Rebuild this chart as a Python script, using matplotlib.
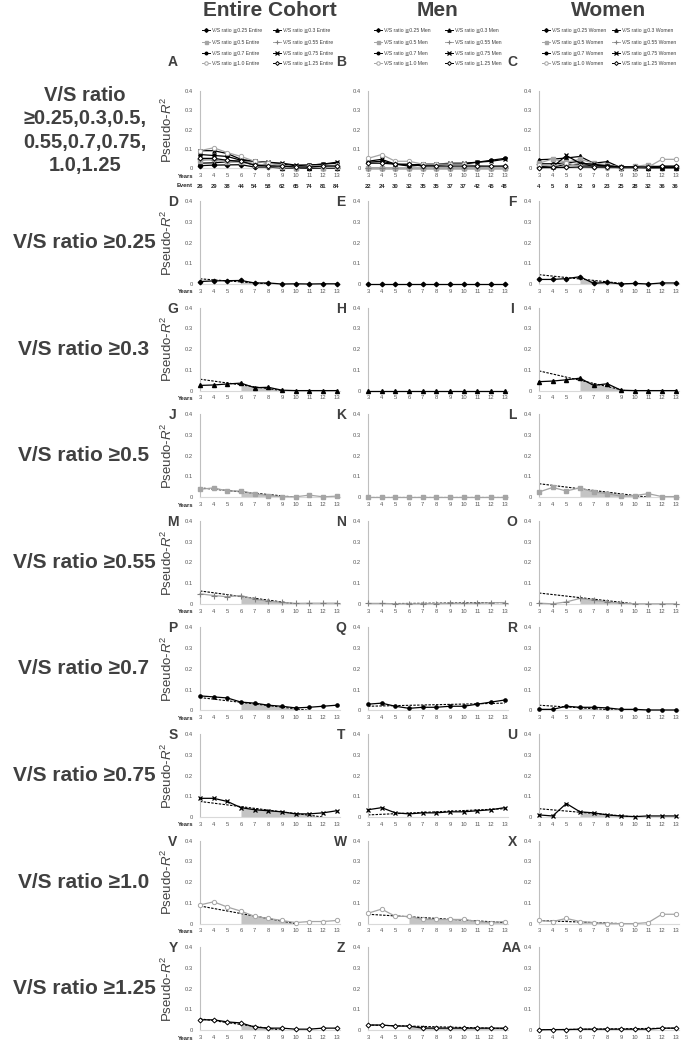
import matplotlib
matplotlib.use('Agg')
import matplotlib.pyplot as plt
from matplotlib.lines import Line2D
import numpy as np

plt.rcParams['font.family'] = ['Liberation Sans', 'DejaVu Sans']
plt.rcParams['mathtext.fontset'] = 'custom'
plt.rcParams['mathtext.rm'] = 'Liberation Sans'
plt.rcParams['mathtext.it'] = 'Liberation Sans:italic'

# ---------------- data ----------------
years = [3, 4, 5, 6, 7, 8, 9, 10, 11, 12, 13]
events_entire = [26, 29, 38, 44, 54, 58, 62, 65, 74, 81, 84]
events_men = [22, 24, 30, 32, 35, 35, 37, 37, 42, 45, 48]
events_women = [4, 5, 8, 12, 9, 23, 25, 28, 32, 36, 36]

thresholds = ['0.25', '0.3', '0.5', '0.55', '0.7', '0.75', '1.0', '1.25']
groups = ['Entire', 'Men', 'Women']
group_titles = ['Entire Cohort', 'Men', 'Women']

entire_025 = [0.012, 0.015, 0.016, 0.017, 0.005, 0.005, 0.0, 0.001, 0.0, 0.001, 0.001]
entire_03 = [0.025, 0.027, 0.032, 0.036, 0.014, 0.016, 0.002, 0.0, 0.0, 0.0, 0.0]
entire_05 = [0.038, 0.045, 0.030, 0.030, 0.017, 0.008, 0.003, 0.002, 0.010, 0.002, 0.005]
entire_055 = [0.048, 0.040, 0.034, 0.040, 0.022, 0.012, 0.007, 0.002, 0.003, 0.003, 0.003]
entire_07 = [0.070, 0.065, 0.060, 0.040, 0.035, 0.025, 0.020, 0.012, 0.015, 0.020, 0.025]
entire_075 = [0.090, 0.090, 0.075, 0.045, 0.035, 0.030, 0.025, 0.015, 0.015, 0.020, 0.030]
entire_10 = [0.090, 0.105, 0.080, 0.060, 0.035, 0.025, 0.015, 0.005, 0.010, 0.010, 0.015]
entire_125 = [0.050, 0.050, 0.040, 0.035, 0.015, 0.010, 0.010, 0.005, 0.005, 0.010, 0.010]

men_025 = [0.0, 0.0, 0.0, 0.0, 0.0, 0.0, 0.0, 0.0, 0.0, 0.0, 0.0]
men_03 = [0.0, 0.0, 0.0, 0.0, 0.0, 0.0, 0.0, 0.0, 0.0, 0.0, 0.0]
men_05 = [0.002, 0.002, 0.002, 0.002, 0.002, 0.002, 0.002, 0.002, 0.002, 0.002, 0.002]
men_055 = [0.002, 0.002, 0.0, 0.0, 0.0, 0.001, 0.002, 0.002, 0.003, 0.005, 0.006]
men_07 = [0.030, 0.035, 0.020, 0.010, 0.015, 0.015, 0.020, 0.020, 0.030, 0.040, 0.050]
men_075 = [0.035, 0.045, 0.020, 0.015, 0.020, 0.020, 0.025, 0.025, 0.030, 0.035, 0.045]
men_10 = [0.050, 0.070, 0.035, 0.035, 0.020, 0.020, 0.020, 0.020, 0.010, 0.005, 0.010]
men_125 = [0.025, 0.025, 0.020, 0.020, 0.010, 0.010, 0.010, 0.010, 0.010, 0.010, 0.010]

women_025 = [0.022, 0.022, 0.026, 0.035, 0.003, 0.008, 0.0, 0.003, 0.0, 0.005, 0.005]
women_03 = [0.043, 0.046, 0.052, 0.060, 0.025, 0.033, 0.002, 0.0, 0.0, 0.0, 0.0]
women_05 = [0.025, 0.047, 0.030, 0.045, 0.025, 0.017, 0.005, 0.008, 0.017, 0.003, 0.003]
women_055 = [0.003, 0.0, 0.009, 0.026, 0.017, 0.009, 0.003, 0.0, 0.0, 0.0, 0.0]
women_07 = [0.005, 0.005, 0.020, 0.015, 0.015, 0.012, 0.005, 0.005, 0.002, 0.002, 0.002]
women_075 = [0.010, 0.005, 0.065, 0.025, 0.020, 0.010, 0.005, 0.002, 0.005, 0.005, 0.005]
women_10 = [0.015, 0.010, 0.025, 0.010, 0.005, 0.0, 0.0, 0.0, 0.005, 0.045, 0.045]
women_125 = [0.002, 0.003, 0.003, 0.005, 0.005, 0.005, 0.005, 0.005, 0.005, 0.010, 0.010]

entire = [entire_025, entire_03, entire_05, entire_055, entire_07, entire_075, entire_10, entire_125]
men = [men_025, men_03, men_05, men_055, men_07, men_075, men_10, men_125]
women = [women_025, women_03, women_05, women_055, women_07, women_075, women_10, women_125]
all_series = [entire, men, women]
all_events = [events_entire, events_men, events_women]

# dashed trend lines: (x_start, x_end, y_start, y_end); None = no trend line
trend_entire = [(3, 8, 0.025, 0.0), (3, 9, 0.055, 0.0), (3, 10, 0.045, 0.0), (3, 10, 0.062, 0.0),
                (3, 11, 0.062, 0.0), (3, 12, 0.075, 0.0), (3, 10, 0.085, 0.0), (3, 9, 0.055, 0.0)]
trend_men = [None, None, (3, 13, 0.002, 0.002), (3, 13, 0.0, 0.006),
             (3, 13, 0.020, 0.035), (3, 13, 0.010, 0.040), (3, 13, 0.045, 0.005), (3, 13, 0.025, 0.008)]
trend_women = [(3, 9.5, 0.045, 0.0), (3, 9.3, 0.095, 0.0), (3, 11, 0.065, 0.0), (3, 10, 0.052, 0.0),
               (3, 9, 0.025, 0.0), (3, 10, 0.040, 0.0), (3, 9, 0.015, 0.0), (3, 13, 0.002, 0.010)]
all_trends = [trend_entire, trend_men, trend_women]
shade_start = 6

row_labels = ['V/S ratio ≥0.25', 'V/S ratio ≥0.3', 'V/S ratio ≥0.5', 'V/S ratio ≥0.55',
              'V/S ratio ≥0.7', 'V/S ratio ≥0.75', 'V/S ratio ≥1.0', 'V/S ratio ≥1.25']
top_label = 'V/S ratio\n≥0.25,0.3,0.5,\n0.55,0.7,0.75,\n1.0,1.25'
panel_letters = [['D', 'E', 'F'], ['G', 'H', 'I'], ['J', 'K', 'L'], ['M', 'N', 'O'],
                 ['P', 'Q', 'R'], ['S', 'T', 'U'], ['V', 'W', 'X'], ['Y', 'Z', 'AA']]
top_letters = ['A', 'B', 'C']

# ---------------- style ----------------
GRAY = '#a5a5a5'
TXT = '#404040'
TICK = '#595959'
styles = [
    dict(color='black', marker='D', markersize=2.3, markerfacecolor='black', markeredgecolor='black'),
    dict(color='black', marker='^', markersize=2.9, markerfacecolor='black', markeredgecolor='black'),
    dict(color=GRAY, marker='s', markersize=2.7, markerfacecolor=GRAY, markeredgecolor=GRAY),
    dict(color=GRAY, marker='+', markersize=4, markeredgecolor='#808080', markeredgewidth=0.8),
    dict(color='black', marker='o', markersize=2.3, markerfacecolor='black', markeredgecolor='black'),
    dict(color='black', marker='x', markersize=3, markeredgecolor='black', markeredgewidth=0.9),
    dict(color=GRAY, marker='o', markersize=3.1, markerfacecolor='white', markeredgecolor=GRAY,
         markeredgewidth=0.7),
    dict(color='black', marker='D', markersize=2.5, markerfacecolor='white', markeredgecolor='black',
         markeredgewidth=0.7),
]
LW = 0.9

W, H = 682, 1044
fig = plt.figure(figsize=(W / 100, H / 100), dpi=100)


def fx(x):
    return x / W


def fy(y):
    return 1 - y / H


col_x = [200, 368, 539]
AX_W = 140
rowA_top, rowA_h = 91, 77
row_top0, row_pitch, row_h = 201, 106.6, 83


def make_ax(x, top, h):
    return fig.add_axes([fx(x), fy(top + h), fx(AX_W), h / H])


def setup(ax):
    ax.set_xlim(3, 13.25)
    ax.set_ylim(0, 0.4)
    ax.set_yticks([0, 0.1, 0.2, 0.3, 0.4])
    ax.set_yticklabels(['0', '0.1', '0.2', '0.3', '0.4'])
    ax.set_xticks(years)
    ax.set_xticklabels([str(y) for y in years])
    ax.tick_params(axis='both', length=0, labelsize=4.2, colors=TICK)
    ax.tick_params(axis='y', pad=5)
    ax.tick_params(axis='x', pad=3.5)
    for s in ['top', 'right']:
        ax.spines[s].set_visible(False)
    ax.spines['left'].set_color('#bfbfbf')
    ax.spines['left'].set_linewidth(0.8)
    ax.spines['bottom'].set_color('#d9d9d9')
    ax.spines['bottom'].set_linewidth(0.8)
    ax.set_facecolor('none')


# column titles
for c in range(3):
    fig.text(fx(col_x[c] + 70), fy(10), group_titles[c], ha='center', va='center',
             fontsize=15, fontweight='bold', color=TXT)

# manual legends
leg_x = [[202, 273], [374, 445], [542, 612]]
leg_y = [30, 41.5, 52.5, 63]
for c in range(3):
    for i, t in enumerate(thresholds):
        r, k = divmod(i, 2)
        x0 = leg_x[c][k]
        y0 = leg_y[r]
        st = dict(styles[i])
        ms = st.pop('markersize') * 0.8
        fig.add_artist(Line2D([fx(x0), fx(x0 + 8)], [fy(y0), fy(y0)], transform=fig.transFigure,
                              lw=0.7, color=st['color']))
        st2 = dict(st)
        st2.pop('color')
        fig.add_artist(Line2D([fx(x0 + 4)], [fy(y0)], transform=fig.transFigure, linestyle='none',
                              markersize=ms, **st2))
        fig.text(fx(x0 + 10), fy(y0), f'V/S ratio ≧{t} {groups[c]}', ha='left', va='center',
                 fontsize=3.7, color=TXT, family=['Liberation Sans', 'DejaVu Sans'])

# row A
fig.text(fx(85), fy(130.5), top_label, ha='center', va='center', fontsize=14.5,
         fontweight='bold', color=TXT, linespacing=1.3)
for c in range(3):
    ax = make_ax(col_x[c], rowA_top, rowA_h)
    setup(ax)
    for i in range(8):
        ax.plot(years, all_series[c][i], lw=LW, clip_on=False, zorder=3, **styles[i])
    for x, ev in zip(years, all_events[c]):
        ax.annotate(str(ev), xy=(x, 0), xycoords='data', xytext=(0, -13.5),
                    textcoords='offset points', ha='center', va='center', fontsize=4.2,
                    fontweight='bold', color='#262626')
    fig.text(fx(col_x[c] - 27), fy(62), top_letters[c], ha='center', va='center', fontsize=10,
             fontweight='bold', color=TXT)
    if c == 0:
        ax.set_ylabel('Pseudo-$\\mathit{R}^2$', fontsize=9.5, color=TXT)
        ax.yaxis.set_label_coords(-0.18, 0.5)
        fig.text(fx(193), fy(rowA_top + rowA_h + 8), 'Years', ha='right', va='center',
                 fontsize=4.2, fontweight='bold', color='#262626')
        fig.text(fx(193), fy(rowA_top + rowA_h + 17.5), 'Event', ha='right', va='center',
                 fontsize=4.2, fontweight='bold', color='#262626')

# rows D..AA
for r in range(8):
    top = row_top0 + r * row_pitch
    fig.text(fx(84), fy(top + 41.5), row_labels[r], ha='center', va='center', fontsize=15,
             fontweight='bold', color=TXT)
    for c in range(3):
        ax = make_ax(col_x[c], top, row_h)
        setup(ax)
        tr = all_trends[c][r]
        if tr is not None:
            x0, x1, y0, y1 = tr
            if y1 < y0:
                xs = np.linspace(shade_start, x1, 20)
                ys = np.interp(xs, [x0, x1], [y0, y1])
                ax.fill_between(xs, 0, ys, color='#c4c4c4', lw=0, zorder=1)
            ax.plot([x0, x1], [y0, y1], color='black', lw=0.8, dashes=(2.2, 1.2), zorder=2)
        ax.plot(years, all_series[c][r], lw=LW, clip_on=False, zorder=3, **styles[r])
        fig.text(fx(col_x[c] - 27), fy(top + 1), panel_letters[r][c], ha='center', va='center',
                 fontsize=10, fontweight='bold', color=TXT)
        if c == 0:
            ax.set_ylabel('Pseudo-$\\mathit{R}^2$', fontsize=9.5, color=TXT)
            ax.yaxis.set_label_coords(-0.18, 0.5)
            fig.text(fx(193), fy(top + row_h + 8), 'Years', ha='right', va='center',
                     fontsize=4.2, fontweight='bold', color='#262626')

fig.savefig('out.png', dpi=100, facecolor='white')
